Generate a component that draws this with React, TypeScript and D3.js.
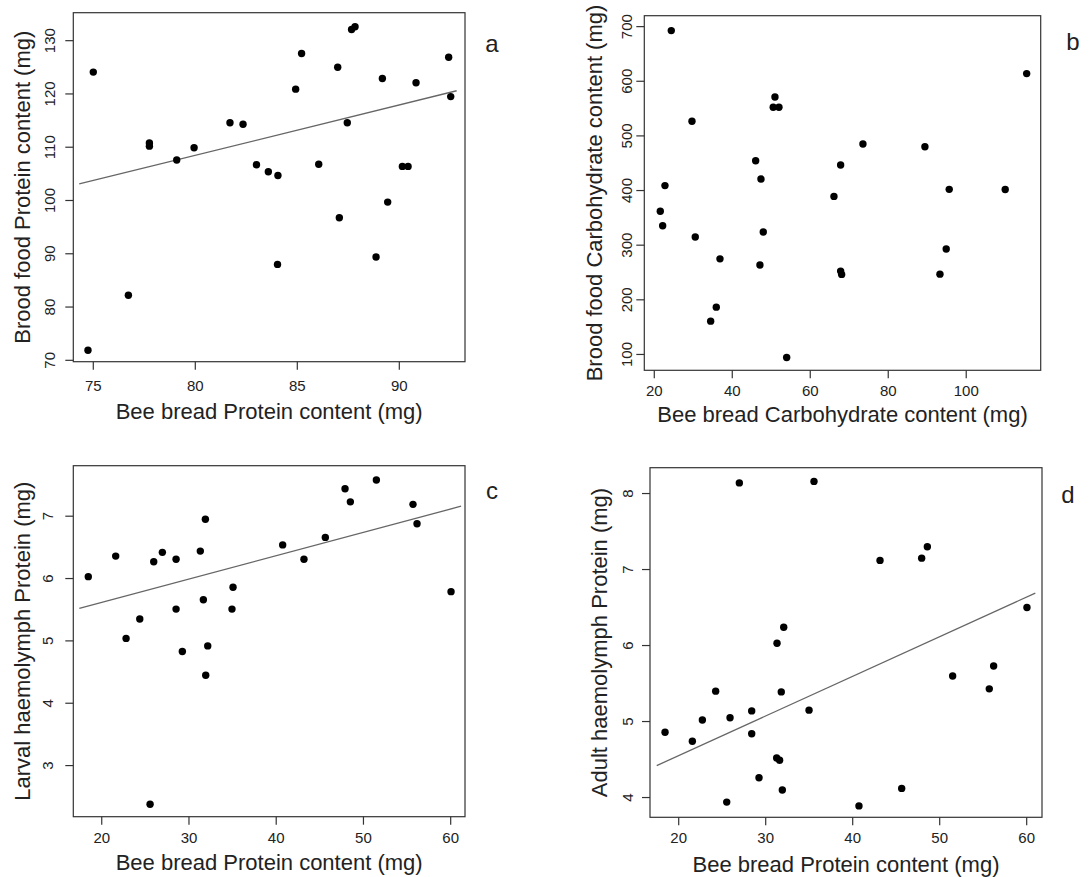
import React from "react";
import * as d3 from "d3";

// Panel a: Bee bread protein vs brood food protein
const aX = [75.0, 74.74, 76.72, 77.75, 77.75, 79.09, 79.94, 81.7, 82.34, 83.0, 83.58, 84.05, 84.03, 84.92, 85.21, 86.05, 86.98, 87.06, 87.45, 87.66, 87.83, 88.86, 89.17, 89.43, 90.15, 90.43, 90.82, 92.42, 92.52];
const aY = [124.1, 71.9, 82.2, 110.8, 110.2, 107.6, 109.9, 114.6, 114.3, 106.7, 105.4, 104.7, 88.0, 120.9, 127.6, 106.8, 125.0, 96.75, 114.6, 132.1, 132.6, 89.4, 122.9, 99.7, 106.4, 106.4, 122.1, 126.9, 119.5];
const aFitX = [74.31, 92.81];
const aFitY = [103.1, 120.6];

// Panel b: Bee bread carbohydrate vs brood food carbohydrate
const bX = [24.36, 21.54, 22.15, 22.74, 29.67, 30.51, 36.85, 35.9, 34.46, 46.0, 47.36, 47.95, 47.1, 50.95, 50.5, 51.97, 53.95, 66.08, 67.79, 67.79, 68.05, 73.51, 89.41, 95.64, 94.87, 93.26, 110.0, 115.5];
const bY = [692.7, 362, 335.5, 409, 526.7, 315, 275, 186.6, 161, 454.6, 421, 324, 263.6, 571.2, 552.4, 552.4, 94.5, 389.3, 446.7, 252.6, 246.5, 485.2, 480.2, 402.2, 293, 247, 402, 614];

// Panel c: Bee bread protein vs larval haemolymph protein
const cX = [18.46, 21.6, 22.79, 24.36, 25.96, 25.54, 26.95, 28.52, 28.52, 29.24, 31.3, 31.88, 31.65, 32.15, 31.92, 35.05, 34.93, 40.74, 43.18, 45.63, 47.89, 48.5, 51.48, 55.68, 56.14, 60.04];
const cY = [6.03, 6.36, 5.04, 5.35, 6.27, 2.38, 6.42, 6.31, 5.51, 4.83, 6.44, 6.95, 5.66, 4.92, 4.45, 5.86, 5.51, 6.54, 6.31, 6.66, 7.44, 7.23, 7.58, 7.19, 6.88, 5.79];
const cFitX = [17.43, 61.19];
const cFitY = [5.52, 7.16];

// Panel d: Bee bread protein vs adult haemolymph protein
const dX = [18.43, 21.57, 22.72, 24.25, 25.52, 25.9, 26.97, 28.39, 28.39, 29.23, 31.3, 32.07, 31.79, 31.26, 31.6, 31.91, 34.98, 35.55, 40.72, 43.14, 45.63, 47.93, 48.58, 51.49, 55.7, 56.2, 60.03];
const dY = [4.86, 4.74, 5.02, 5.4, 3.94, 5.05, 8.14, 5.14, 4.84, 4.26, 6.03, 6.24, 5.39, 4.52, 4.49, 4.1, 5.15, 8.16, 3.89, 7.12, 4.12, 7.15, 7.3, 5.6, 5.43, 5.73, 6.5];
const dFitX = [17.47, 60.99];
const dFitY = [4.42, 6.69];

// Tick labels
const aXTicks = [75, 80, 85, 90];
const aYTicks = [70, 80, 90, 100, 110, 120, 130];
const bXTicks = [20, 40, 60, 80, 100];
const bYTicks = [100, 200, 300, 400, 500, 600, 700];
const cXTicks = [20, 30, 40, 50, 60];
const cYTicks = [3, 4, 5, 6, 7];
const dXTicks = [20, 30, 40, 50, 60];
const dYTicks = [4, 5, 6, 7, 8];

const xTitles = [
  "Bee bread Protein content (mg)",
  "Bee bread Carbohydrate content (mg)",
  "Bee bread Protein content (mg)",
  "Bee bread Protein content (mg)",
];
const yTitles = [
  "Brood food Protein content (mg)",
  "Brood food Carbohydrate content (mg)",
  "Larval haemolymph Protein (mg)",
  "Adult haemolymph Protein (mg)",
];
const letters = ["a", "b", "c", "d"];

const FONT = "'Liberation Sans', Arial, Helvetica, sans-serif";
const TEXT = "#222";

type PanelSpec = {
  box: [number, number, number, number]; // left, top, right, bottom
  xDomain: [number, number];
  yDomain: [number, number];
  xs: number[];
  ys: number[];
  fitX?: number[];
  fitY?: number[];
  xTicks: number[];
  yTicks: number[];
  xTitle: string;
  yTitle: string;
  letter: string;
  letterPos: [number, number];
  yLabelX: number;
  yTitleX: number;
  xLabelY: number;
  xTitleY: number;
};

const panels: PanelSpec[] = [
  {
    box: [73.3, 12.7, 465, 361.7],
    xDomain: [74.02, 93.22],
    yDomain: [69.74, 135.25],
    xs: aX, ys: aY, fitX: aFitX, fitY: aFitY,
    xTicks: aXTicks, yTicks: aYTicks,
    xTitle: xTitles[0], yTitle: yTitles[0], letter: letters[0],
    letterPos: [492, 52], yLabelX: 55, yTitleX: 29.5, xLabelY: 391, xTitleY: 419,
  },
  {
    box: [644.3, 15.7, 1040.7, 370.3],
    xDomain: [17.44, 119.1],
    yDomain: [71, 720],
    xs: bX, ys: bY,
    xTicks: bXTicks, yTicks: bYTicks,
    xTitle: xTitles[1], yTitle: yTitles[1], letter: letters[1],
    letterPos: [1073, 50], yLabelX: 632, yTitleX: 602, xLabelY: 396, xTitleY: 421.7,
  },
  {
    box: [73.3, 465.7, 465, 816.7],
    xDomain: [16.74, 61.64],
    yDomain: [2.18, 7.81],
    xs: cX, ys: cY, fitX: cFitX, fitY: cFitY,
    xTicks: cXTicks, yTicks: cYTicks,
    xTitle: xTitles[2], yTitle: yTitles[2], letter: letters[2],
    letterPos: [492, 499], yLabelX: 53, yTitleX: 29.5, xLabelY: 842.7, xTitleY: 870,
  },
  {
    box: [650, 467.7, 1042, 817.3],
    xDomain: [16.7, 61.76],
    yDomain: [3.74, 8.34],
    xs: dX, ys: dY, fitX: dFitX, fitY: dFitY,
    xTicks: dXTicks, yTicks: dYTicks,
    xTitle: xTitles[3], yTitle: yTitles[3], letter: letters[3],
    letterPos: [1068, 503], yLabelX: 632.5, yTitleX: 607, xLabelY: 843.3, xTitleY: 871.7,
  },
];

function Panel({ p }: { p: PanelSpec }) {
  const [l, t, r, b] = p.box;
  const x = d3.scaleLinear().domain(p.xDomain).range([l, r]);
  const y = d3.scaleLinear().domain(p.yDomain).range([b, t]);
  const pts = p.xs.map((v, i) => [v, p.ys[i]] as [number, number]);
  const line = d3
    .line<[number, number]>()
    .x((d) => x(d[0]))
    .y((d) => y(d[1]));
  const fit = p.fitX && p.fitY ? p.fitX.map((v, i) => [v, p.fitY![i]] as [number, number]) : null;
  const cy = (t + b) / 2;
  const cx = (l + r) / 2;
  return (
    <g>
      <rect x={l} y={t} width={r - l} height={b - t} fill="none" stroke="#333" strokeWidth={1.2} />
      {p.xTicks.map((v) => (
        <g key={"xt" + v}>
          <line x1={x(v)} x2={x(v)} y1={b} y2={b + 8} stroke="#333" strokeWidth={1.2} />
          <text x={x(v)} y={p.xLabelY} textAnchor="middle" fontSize={15} fill={TEXT} fontFamily={FONT}>
            {v}
          </text>
        </g>
      ))}
      {p.yTicks.map((v) => (
        <g key={"yt" + v}>
          <line x1={l - 8} x2={l} y1={y(v)} y2={y(v)} stroke="#333" strokeWidth={1.2} />
          <text
            transform={`translate(${p.yLabelX},${y(v)}) rotate(-90)`}
            textAnchor="middle"
            fontSize={15}
            fill={TEXT}
            fontFamily={FONT}
          >
            {v}
          </text>
        </g>
      ))}
      <text x={cx} y={p.xTitleY} textAnchor="middle" fontSize={22} fill={TEXT} fontFamily={FONT}>
        {p.xTitle}
      </text>
      <text
        transform={`translate(${p.yTitleX},${cy}) rotate(-90)`}
        textAnchor="middle"
        fontSize={22}
        fill={TEXT}
        fontFamily={FONT}
      >
        {p.yTitle}
      </text>
      <text x={p.letterPos[0]} y={p.letterPos[1]} textAnchor="middle" fontSize={24} fill={TEXT} fontFamily={FONT}>
        {p.letter}
      </text>
      {fit && <path d={line(fit) || ""} fill="none" stroke="#666" strokeWidth={1.3} />}
      {pts.map((d, i) => (
        <circle key={i} cx={x(d[0])} cy={y(d[1])} r={3.7} fill="#000" />
      ))}
    </g>
  );
}

export default function App() {
  return (
    <svg
      width={1089}
      height={877}
      style={{ position: "absolute", left: 0, top: 0, display: "block", background: "#fff" }}
    >
      <rect x={0} y={0} width={1089} height={877} fill="#fff" />
      {panels.map((p, i) => (
        <Panel key={i} p={p} />
      ))}
    </svg>
  );
}
